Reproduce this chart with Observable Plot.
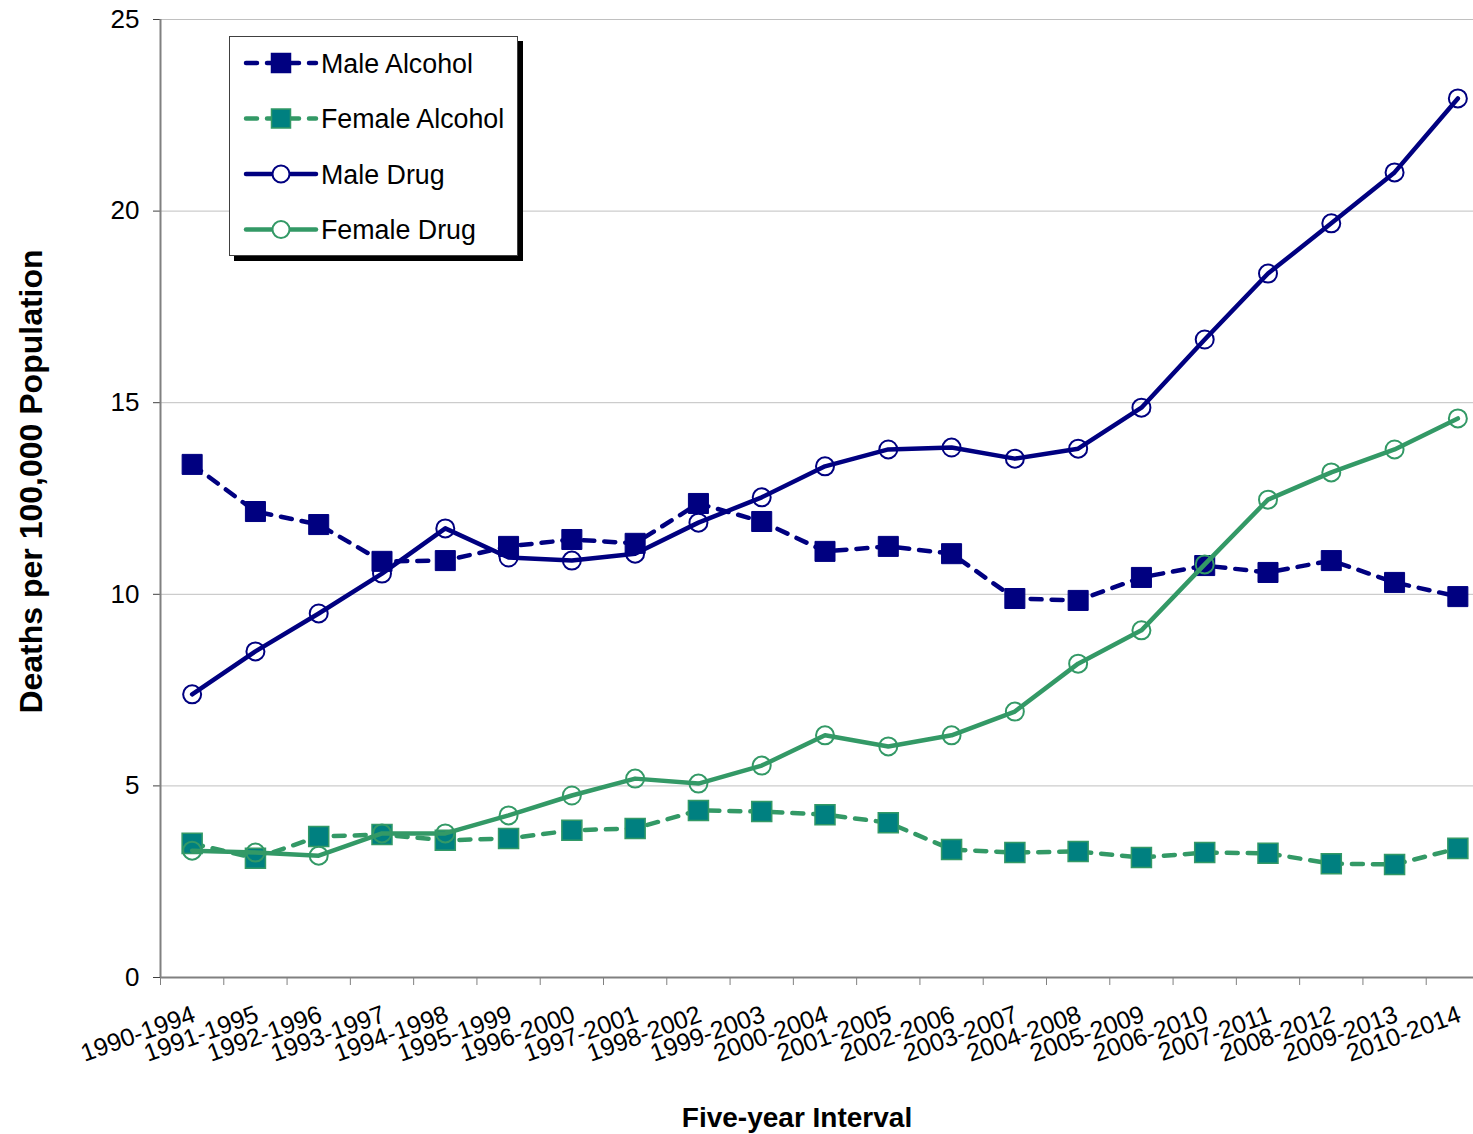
<!DOCTYPE html>
<html>
<head>
<meta charset="utf-8">
<script src="https://cdn.jsdelivr.net/npm/d3@7"></script>
<script src="https://cdn.jsdelivr.net/npm/@observablehq/plot@0.6"></script>
<style>
  body { margin: 0; background: white; font-family: "Liberation Sans", Arial, sans-serif; }
  #wrap { position: relative; width: 1473px; height: 1134px; overflow: hidden; }
  #legend { position: absolute; left: 229px; top: 36px; width: 289px; height: 220px;
            background: white; border: 1px solid #404040; box-shadow: 5px 5px 0 #000; box-sizing: border-box; }
</style>
</head>
<body>
<div id="wrap"></div>
<script>
const intervals = ["1990-1994","1991-1995","1992-1996","1993-1997","1994-1998","1995-1999","1996-2000","1997-2001","1998-2002","1999-2003","2000-2004","2001-2005","2002-2006","2003-2007","2004-2008","2005-2009","2006-2010","2007-2011","2008-2012","2009-2013","2010-2014"];
const maleAlcohol   = [13.39,12.16,11.82,10.86,10.88,11.25,11.43,11.33,12.37,11.90,11.12,11.25,11.06,9.89,9.84,10.44,10.75,10.57,10.88,10.31,9.94];
const femaleAlcohol = [3.50,3.11,3.68,3.73,3.58,3.63,3.84,3.89,4.36,4.33,4.25,4.04,3.34,3.26,3.29,3.13,3.26,3.24,2.97,2.95,3.37];
const maleDrug      = [7.39,8.51,9.50,10.54,11.72,10.96,10.88,11.06,11.87,12.53,13.34,13.78,13.83,13.54,13.80,14.87,16.65,18.37,19.68,21.01,22.94];
const femaleDrug    = [3.31,3.26,3.18,3.76,3.76,4.23,4.75,5.19,5.06,5.53,6.32,6.03,6.32,6.94,8.19,9.06,10.78,12.47,13.18,13.78,14.59];
const yTicks = [0,5,10,15,20,25];
const seriesNames = ["Male Alcohol","Female Alcohol","Male Drug","Female Drug"];
const yTitle = "Deaths per 100,000 Population";
const xTitle = "Five-year Interval";

const NAVY = "#000080", GREEN = "#339966", TEAL = "#008080";
const toRows = arr => arr.map((v,i) => ({i, v, label: intervals[i]}));
const MA = toRows(maleAlcohol), FA = toRows(femaleAlcohol), MD = toRows(maleDrug), FD = toRows(femaleDrug);
const DASH = "11,10";
const sqR = 11.3;

const chart = Plot.plot({
  width: 1473, height: 1134,
  marginTop: 19, marginBottom: 157, marginLeft: 160, marginRight: 0,
  style: {fontFamily: "'Liberation Sans', Arial, sans-serif", background: "white", color: "black"},
  x: {domain: [-0.5, 20.5], range: [160, 1489], axis: null},
  y: {domain: [0, 25], range: [977, 19], axis: null},
  marks: [
    Plot.ruleY(yTicks.filter(d => d > 0), {y: d => d, stroke: "#c0c0c0", strokeWidth: 1}),
    Plot.axisY({ticks: yTicks, tickSize: 7, tickPadding: 14, fontSize: 26, label: null, stroke: "#404040"}),
    Plot.axisX({ticks: d3.range(-0.5, 21, 1), tickSize: 8, tickFormat: () => "", label: null, stroke: "#808080"}),
    Plot.ruleX([-0.5], {x: d => d, stroke: "#808080", strokeWidth: 2}),
    Plot.ruleY([0], {y: d => d, stroke: "#808080", strokeWidth: 2}),
    Plot.text(intervals.map((d,i) => ({label: d, i})), {x: "i", y: () => 0, text: "label", rotate: -20,
      textAnchor: "end", fontSize: 25, dx: 2, dy: 36, fill: "black"}),
    Plot.text([yTitle], {frameAnchor: "left", textAnchor: "middle", rotate: -90,
      dx: -129, dy: -17, fontSize: 32, fontWeight: "bold", fill: "black"}),
    Plot.text([xTitle], {frameAnchor: "bottom", textAnchor: "middle", dx: -20, dy: 149, fontSize: 28, fontWeight: "bold", fill: "black"}),

    Plot.line(MA, {x: "i", y: "v", stroke: NAVY, strokeWidth: 4.5, strokeDasharray: DASH, strokeLinecap: "round"}),
    Plot.dot(MA, {x: "i", y: "v", symbol: "square", r: sqR, fill: NAVY, stroke: NAVY, strokeWidth: 1}),

    Plot.line(FA, {x: "i", y: "v", stroke: GREEN, strokeWidth: 4.5, strokeDasharray: DASH, strokeLinecap: "round"}),
    Plot.dot(FA, {x: "i", y: "v", symbol: "square", r: sqR, fill: TEAL, stroke: GREEN, strokeWidth: 1.5}),

    Plot.line(MD, {x: "i", y: "v", stroke: NAVY, strokeWidth: 4.5}),
    Plot.dot(MD, {x: "i", y: "v", symbol: "circle", r: 9, fill: "none", stroke: NAVY, strokeWidth: 2}),

    Plot.line(FD, {x: "i", y: "v", stroke: GREEN, strokeWidth: 4.5}),
    Plot.dot(FD, {x: "i", y: "v", symbol: "circle", r: 9, fill: "none", stroke: GREEN, strokeWidth: 2})
  ]
});
const wrap = document.getElementById("wrap");
wrap.appendChild(chart);

// legend
const legendStyles = [
  {name: seriesNames[0], color: NAVY, dash: DASH, marker: "square", fill: NAVY, mstroke: NAVY},
  {name: seriesNames[1], color: GREEN, dash: DASH, marker: "square", fill: TEAL, mstroke: GREEN},
  {name: seriesNames[2], color: NAVY, dash: null, marker: "circle", fill: "white", mstroke: NAVY},
  {name: seriesNames[3], color: GREEN, dash: null, marker: "circle", fill: "white", mstroke: GREEN}
];
const lg = document.createElement("div");
lg.id = "legend";
let svg = `<svg width="287" height="218" xmlns="http://www.w3.org/2000/svg" style="font-family:'Liberation Sans',Arial,sans-serif">`;
legendStyles.forEach((s, k) => {
  const cy = 26 + k * 55.5;
  svg += `<line x1="16" x2="86" y1="${cy}" y2="${cy}" stroke="${s.color}" stroke-width="4.5" stroke-linecap="round" ${s.dash ? `stroke-dasharray="${s.dash}"` : ""}/>`;
  if (s.marker === "square") svg += `<rect x="${51-9.5}" y="${cy-9.5}" width="19" height="19" fill="${s.fill}" stroke="${s.mstroke}" stroke-width="1.5"/>`;
  else svg += `<circle cx="51" cy="${cy}" r="8.5" fill="${s.fill}" stroke="${s.mstroke}" stroke-width="2"/>`;
  svg += `<text x="91" y="${cy + 9.5}" font-size="26.8" fill="black">${s.name}</text>`;
});
svg += `</svg>`;
lg.innerHTML = svg;
wrap.appendChild(lg);
</script>
</body>
</html>
